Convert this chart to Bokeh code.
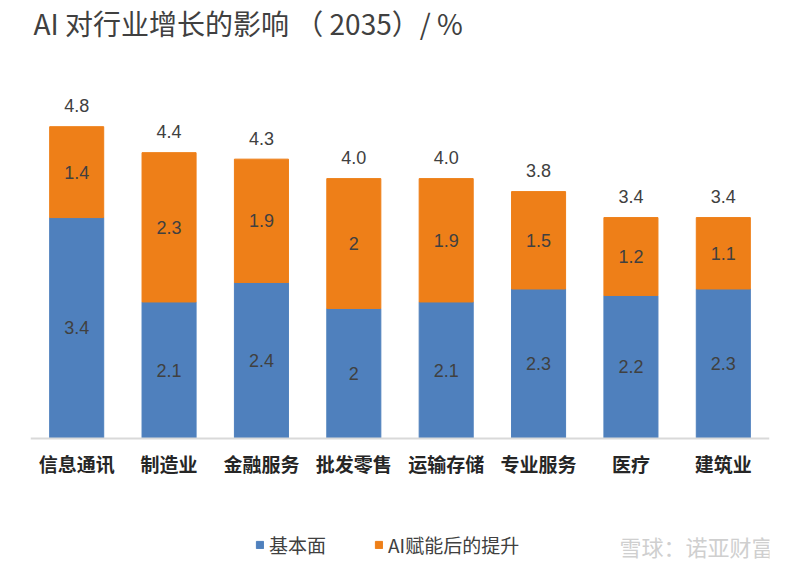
from bokeh.plotting import figure
from bokeh.models import ColumnDataSource, Legend, LegendItem, Label
from bokeh.core.properties import value
from bokeh.embed import file_html
from bokeh.resources import INLINE

categories = ["信息通讯", "制造业", "金融服务", "批发零售", "运输存储", "专业服务", "医疗", "建筑业"]
base = [3.4, 2.1, 2.4, 2.0, 2.1, 2.3, 2.2, 2.3]
ai_boost = [1.4, 2.3, 1.9, 2.0, 1.9, 1.5, 1.2, 1.1]
totals = [4.8, 4.4, 4.3, 4.0, 4.0, 3.8, 3.4, 3.4]
base_labels = ["3.4", "2.1", "2.4", "2", "2.1", "2.3", "2.2", "2.3"]
ai_labels = ["1.4", "2.3", "1.9", "2", "1.9", "1.5", "1.2", "1.1"]
total_labels = ["4.8", "4.4", "4.3", "4.0", "4.0", "3.8", "3.4", "3.4"]

BLUE = "#4F80BD"
ORANGE = "#EE7F18"
FONT = "Noto Sans CJK SC"

src = ColumnDataSource(dict(
    cat=categories, base=base, ai=ai_boost, total=totals,
    base_mid=[b / 2 for b in base],
    ai_mid=[b + a / 2 for b, a in zip(base, ai_boost)],
    base_lab=base_labels, ai_lab=ai_labels, total_lab=total_labels,
))

PX_PER_UNIT = 64.8
Y0 = -122 / PX_PER_UNIT
p = figure(x_range=categories, y_range=(Y0, Y0 + 559 / PX_PER_UNIT),
           width=784, height=560, output_backend="svg", toolbar_location=None,
           min_border_left=30, min_border_right=15, min_border_top=0, min_border_bottom=0)
p.outline_line_color = None
p.background_fill_color = "white"
p.border_fill_color = "white"
p.xgrid.visible = False
p.ygrid.visible = False
p.yaxis.visible = False
p.x_range.range_padding = 0

r1 = p.vbar(x="cat", top="base", bottom=0, width=0.585, color=BLUE, source=src)
r2 = p.vbar(x="cat", top="total", bottom="base", width=0.585, color=ORANGE, source=src)

xa = p.xaxis[0]
xa.fixed_location = 0
xa.axis_line_color = "#D9D9D9"
xa.axis_line_width = 2
xa.major_tick_line_color = None
xa.minor_tick_line_color = None
xa.major_tick_out = 0
xa.major_tick_in = 0
xa.major_label_text_font = FONT
xa.major_label_text_font_size = "19px"
xa.major_label_text_font_style = "bold"
xa.major_label_text_color = "#262626"
xa.major_label_standoff = 12

common = dict(text_align="center", text_baseline="middle", text_font=value("Liberation Sans"),
              text_font_size="18px", text_color="#404040", source=src)
p.text(x="cat", y="base_mid", text="base_lab", **common)
p.text(x="cat", y="ai_mid", text="ai_lab", **common)
p.text(x="cat", y="total", text="total_lab", y_offset=-21, **common)

title = Label(x=3, y=538, x_units="screen", y_units="screen",
              text="AI 对行业增长的影响 （ 2035）/ %", text_font=FONT,
              text_font_size="28px", text_color="#404040", text_baseline="middle")
p.add_layout(title)

legend = Legend(items=[LegendItem(label="基本面", renderers=[r1]),
                       LegendItem(label="AI赋能后的提升", renderers=[r2])],
                orientation="horizontal", location=(225, 2),
                label_text_font=FONT, label_text_font_size="19px", label_text_color="#404040",
                glyph_width=9, glyph_height=9, spacing=48, label_standoff=5,
                padding=4, margin=0,
                border_line_color=None, background_fill_alpha=0)
p.add_layout(legend, "center")

wm = Label(x=589, y=15, x_units="screen", y_units="screen",
           text="雪球：诺亚财富", text_font=FONT, text_font_size="22px",
           text_color="#CFCFCF", text_baseline="middle")
p.add_layout(wm)

open("out.html", "w").write(file_html(p, INLINE))
